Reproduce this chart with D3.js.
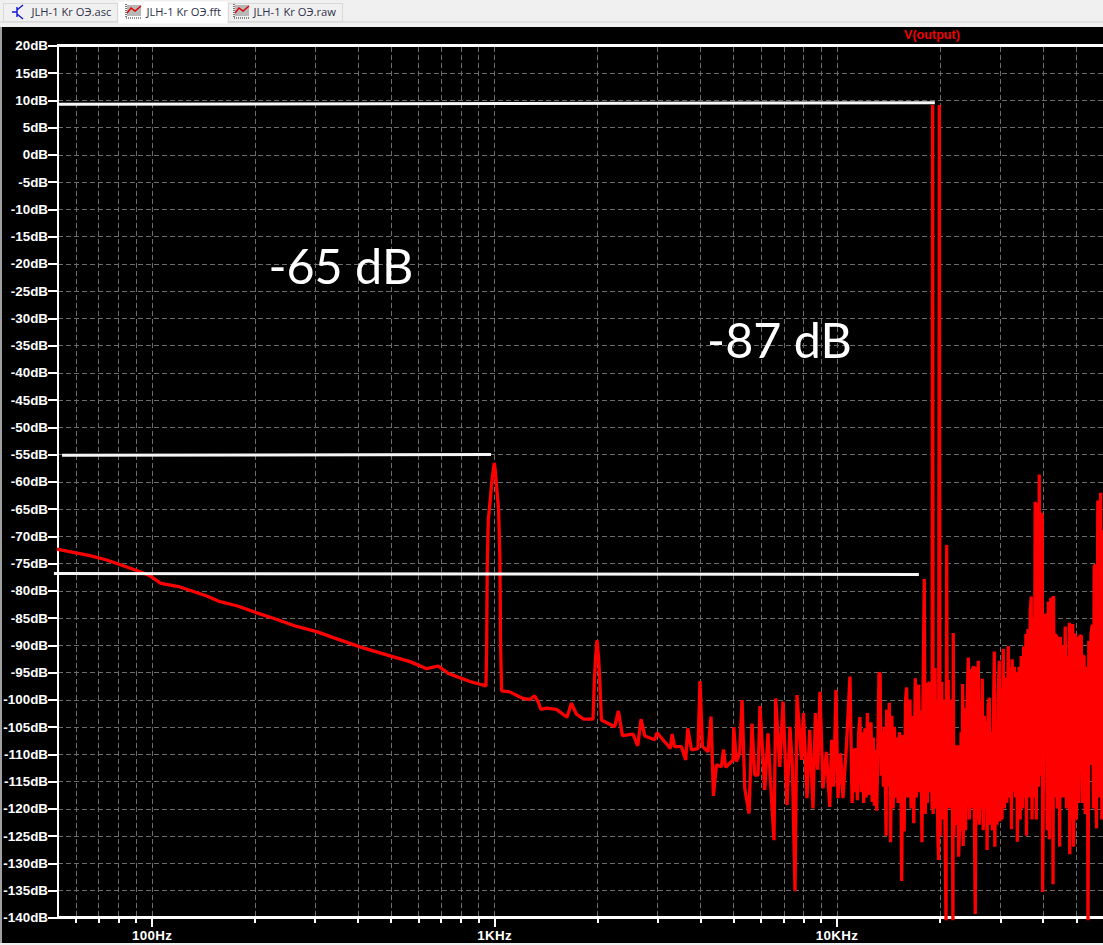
<!DOCTYPE html>
<html><head><meta charset="utf-8">
<style>html,body{margin:0;padding:0;background:#f0f0f0;overflow:hidden}svg{display:block}</style>
<script src="https://cdn.jsdelivr.net/npm/d3@7"></script></head><body>
<script>
const yTicks=[20,15,10,5,0,-5,-10,-15,-20,-25,-30,-35,-40,-45,-50,-55,-60,-65,-70,-75,-80,-85,-90,-95,-100,-105,-110,-115,-120,-125,-130,-135,-140];
const xMajor=[100,1000,10000];
const xMajorLabels=["100Hz","1KHz","10KHz"];
const xMinor=[60,70,80,90,200,300,400,500,600,700,800,900,2000,3000,4000,5000,6000,7000,8000,9000,20000,30000,40000,50000];
const tabs=["JLH-1 Kr ОЭ.asc","JLH-1 Kr ОЭ.fft","JLH-1 Kr ОЭ.raw"];
const traceName="V(output)";
const lowFreq=[52.9,59.1,66.1,74,82.7,92.6,99,106.4,121.1,144.9,158.4,177.3,202.8,226.8,265.3,303.5,339.4,406,496.7,568,636,687,735,850.5,947,951.5,955,961.9,972.8,984,994.8,1001.4,1008,1017.6,1031,1040,1045,1052,1111,1215,1271,1315,1344,1369,1422,1521,1633,1682,1740,1827,1945,1963,1977,1998,2021,2035,2058,2250,2307,2370,2545,2627,2686,2754,2945,2991,3272,3308,3368,3524,3627,3677,3770,3939,3993,4058,4213,4299,4369,4458,4611,4674,4747,4985,5009,5100,5214,5297,5394,5551,5664,5768,5897,5976,6168,6307,6409,6566,6642,6823,6975,7166,7311,7430,7562,7664,7895,8001,8197,8347,8534,8673,8808,8944,9126,9337,9550,9676,9806,9959,10094,10280,10440,10680,10942];
const lowDb=[-72.4,-73,-73.6,-74.4,-75.45,-76.55,-77.3,-78.7,-79.35,-81,-82.05,-82.8,-84.1,-85.1,-86.6,-87.55,-88.65,-90.35,-92,-93.05,-94.35,-93.85,-95.2,-96.7,-97.5,-90.3,-75.9,-67.05,-63.95,-60.3,-57.9,-56.6,-57.9,-61,-65.2,-74,-90.3,-98.4,-98.6,-99.8,-100,-99.35,-100.4,-101.8,-101.6,-101.8,-103.25,-100.7,-102.7,-103.6,-103.6,-96.4,-92.75,-89.1,-92.75,-96.4,-103.75,-105,-102.1,-106.65,-106.35,-108.5,-103.6,-106.7,-107.4,-106.1,-109,-106.35,-108.65,-108.65,-111.1,-105.3,-109.25,-109,-96.6,-108.65,-109.6,-103.15,-117.7,-112,-112.35,-109.15,-112.45,-111.1,-105.05,-111.4,-109.8,-100.1,-116.3,-120.9,-104.4,-113.85,-113.85,-101.2,-116.6,-106.2,-114.8,-125.8,-99.8,-112.35,-100.4,-119.35,-105,-112.35,-135.2,-99.2,-111.1,-102.5,-118.1,-105.6,-120,-102.5,-112.9,-98.6,-116.3,-109.6,-119.7,-107.4,-116,-98.25,-118.1,-109.9,-118.1,-108.65,-95.8];
const noiseFreq=[11100,11200,11300,11400,11500,11600,11700,11800,11900,12000,12100,12200,12300,12400,12500,12600,12700,12800,12900,13000,13100,13200,13300,13400,13500,13600,13700,13800,13900,13950,14000,14125,14250,14375,14500,14625,14750,14875,15000,15125,15250,15390,15490,15600,15750,15900,16020,16150,16270,16380,16500,16650,16800,16970,17100,17230,17360,17500,17625,17750,17875,18030,18150,18275,18400,18525,18650,18775,18900,19000,19070,19140,19250,19380,19500,19625,19750,19850,19950,20050,20150,20270,20400,20550,20700,20870,20960,21070,21180,21300,21450,21600,21750,21860,21910,22000,22200,22400,22600,22710,22900,23100,23230,23340,23430,23600,23800,24000,24240,24400,24600,24800,24900,25100,25250,25400,25600,25750,25920,26100,26300,26450,26630,26800,27000,27200,27400,27500,27700,27910,28100,28300,28500,28700,28870,28970,29200,29400,29600,29850,29950,30200,30400,30660,30900,31150,31400,31710,31950,32200,32400,32550,32800,33050,33300,33550,33700,34100,34350,34600,34900,35170,35500,35700,35840,36200,36500,36750,37000,37200,37600,37800,38000,38300,38650,38850,39050,39300,39600,39850,39950,40300,40600,40940,41200,41500,41780,42200,42500,42700,42850,43000,43300,43500,43800,44100,44500,44800,45000,45400,45700,46100,46500,46900,47300,47500,47800,47950,48400,48700,48900,49200,49750,50100,50500,50900,51300,51800,52200,52500,52800,53200,53600,54000,54200,54500,54900,55300,55800,56200,56500,56900,57200,57400,57900,58400,59000,59500,60000,61000];
const noiseDb=[-119,-109,-117,-108.9,-118.5,-106,-103.2,-117,-106,-119,-105.3,-118,-102.5,-117.5,-106,-104.2,-118.8,-107,-119.5,-109.3,-120.4,-108,-95.1,-95.3,-114,-106,-116,-105,-118,-125,-101.9,-116,-100.6,-126.2,-103,-120,-105,-118,-107,-119,-106,-108.7,-133.3,-106.5,-124.2,-100,-97.8,-118,-101,-100,-120,-103,-122.7,-96.1,-118,-99,-97.3,-117,-102,-126.2,-100,-77.9,-121,-97,-119,-97,-96.9,-117,-100,-120,9.1,-121,-100,-94.2,-120,-100,-125,-129.45,9.1,-125,-98,-96.8,-122,-100,-120,-140.5,-71.65,-120,-96.4,-120,-100,-119,-106,-140.5,-87.8,-125,-108.4,-123,-108.4,-128.85,-122,-106,-124,-97.15,-126.9,-101.6,-124,-103,-92.3,-122,-94.5,-120,-94.7,-93.9,-120,-139.35,-94,-122,-92.9,-123,-100,-120,-96.2,-124,-103,-120,-104,-127.6,-101,-99.7,-123,-106,-124,-104,-91.2,-127,-104,-123,-100,-92.9,-122.4,-98,-122,-90.7,-120,-96,-119,-90.2,-118,-94,-123.8,-92.6,-117,-94,-118,-95,-126.1,-94,-122,-92,-120,-90.3,-118,-88,-125,-87.05,-118,-84,-81.1,-122,-85,-118,-63.7,-122,-64,-116,-58.7,-114,-66,-66,-135.3,-100,-84.5,-84.5,-124,-82,-125.65,-81.4,-120,-81.2,-133.9,-81,-118,-88.2,-88.2,-120,-88.5,-127,-88.5,-118,-90,-118,-86.6,-120,-92,-118,-85.9,-128.4,-88,-122,-86.15,-127,-87.85,-122,-88.5,-119,-88.5,-88.2,-119,-92,-92.15,-121,-94,-100,-140.5,-89.25,-112,-88,-86.3,-120,-75.45,-75.45,-118,-123.65,-63.5,-118,-62.05,-122,-68.9,-90];
const guideFreqA=[53.7,19360], guideDbA=[9.2,9.5];
const guideFreqB=[54.8,979.5], guideDbB=[-55.2,-55.05];
const guideFreqC=[51.9,17390], guideDbC=[-76.9,-77.05];
const noteTexts=["-65 dB","-87 dB"];
const noteFreq=[219.4,4188], noteDb=[-23.75,-37.3];

const W=1103,H=945;
const x=d3.scaleLog().domain([52.97,59950]).range([57,1103]);
const y=d3.scaleLinear().domain([-140,20]).range([917.5,45.5]);
const svg=d3.select("body").append("svg").attr("width",W).attr("height",H);
const sysFont='"Liberation Sans",Arial,sans-serif';

// window chrome
svg.append("rect").attr("width",W).attr("height",H).attr("fill","#f0f0f0");
svg.append("rect").attr("y",21.5).attr("width",W).attr("height",1).attr("fill","#cfcfcf");
svg.append("rect").attr("x",2).attr("y",27).attr("width",W-2).attr("height",916).attr("fill","#000");
svg.append("rect").attr("x",0).attr("y",27).attr("width",2).attr("height",916).attr("fill","#a0a0a0");

const tabBox=[[3,3,114,18,"#f0f0f0"],[118,1,109,22,"#ffffff"],[228,3,114,18,"#f0f0f0"]];
const tabG=svg.append("g");
tabG.selectAll("rect").data(tabBox).join("rect")
 .attr("x",d=>d[0]+.5).attr("y",d=>d[1]+.5).attr("width",d=>d[2]).attr("height",d=>d[3])
 .attr("fill",d=>d[4]).attr("stroke",(d,i)=>i==1?"none":"#d9d9d9");
tabG.selectAll("text").data(tabs).join("text")
 .attr("x",(d,i)=>[31.5,146.5,253.5][i]).attr("y",16).attr("font-family",'"Open Sans",sans-serif')
 .attr("font-size",11.2).attr("fill","#30304a").text(d=>d);
// tab icons
const sch=tabG.append("g").attr("stroke","#1515d8").attr("fill","none").attr("stroke-width",1.4);
sch.append("path").attr("d","M12 12H17M17 7V17M17 10L23 5M17 14L23 19");
[126,234].forEach(ix=>{
 const g=tabG.append("g");
 g.append("rect").attr("x",ix+1).attr("y",5).attr("width",14).attr("height",11).attr("fill","#b8b8b8");
 g.append("path").attr("d",`M${ix} 4V18H${ix+16}`).attr("fill","none").attr("stroke","#222").attr("stroke-dasharray","1 1").attr("stroke-width",1.2);
 g.append("path").attr("d",`M${ix+1} 13L${ix+5} 8L${ix+9} 11L${ix+15} 6`).attr("fill","none").attr("stroke","#e00000").attr("stroke-width",1.4);
});

// grid
const grid=svg.append("g").attr("stroke","#6c6c6c").attr("stroke-width",1).attr("stroke-dasharray","5 3").attr("shape-rendering","crispEdges");
grid.selectAll("line.h").data(yTicks.slice(1,-1)).join("line").attr("class","h")
 .attr("x1",58).attr("x2",W).attr("y1",d=>Math.round(y(d))+.5).attr("y2",d=>Math.round(y(d))+.5);
grid.selectAll("line.v").data(xMinor.concat(xMajor)).join("line").attr("class","v")
 .attr("x1",d=>Math.round(x(d))+.5).attr("x2",d=>Math.round(x(d))+.5).attr("y1",47).attr("y2",916);

// axes
const yAxis=d3.axisLeft(y).tickValues(yTicks).tickFormat(d=>d+"dB").tickSize(9).tickPadding(0);
const gy=svg.append("g").attr("transform","translate(57,0)").call(yAxis);
const xAxis=d3.axisBottom(x).tickValues(xMajor).tickFormat((d,i)=>xMajorLabels[i]).tickSize(9).tickPadding(4);
const gx=svg.append("g").attr("transform","translate(0,917.5)").call(xAxis);
const xAxisMinor=d3.axisBottom(x).tickValues(xMinor).tickFormat("").tickSize(5);
const gxm=svg.append("g").attr("transform","translate(0,917.5)").call(xAxisMinor);
[gy,gx,gxm].forEach(g=>{
 g.select(".domain").remove();
 g.selectAll("line").attr("stroke","#fff").attr("stroke-width",2).attr("shape-rendering","crispEdges");
 g.selectAll("text").attr("fill","#fff").attr("font-family",sysFont).attr("font-weight",700).attr("font-size",13.4);
});
gx.selectAll("text").attr("letter-spacing",.3);

// frame
const frame=svg.append("g").attr("stroke","#fff").attr("shape-rendering","crispEdges");
frame.append("line").attr("x1",57).attr("x2",W).attr("y1",45.5).attr("y2",45.5).attr("stroke-width",3);
frame.append("line").attr("x1",57).attr("x2",W).attr("y1",917.5).attr("y2",917.5).attr("stroke-width",3);
frame.append("line").attr("x1",57.5).attr("x2",57.5).attr("y1",44).attr("y2",919).attr("stroke-width",2);

// trace
const freq=lowFreq.concat(noiseFreq), db=lowDb.concat(noiseDb);
const pts=freq.map((f,i)=>[f,db[i]]);
const lineGen=d3.line().x(d=>x(d[0])).y(d=>y(d[1]));
svg.append("path").datum(pts).attr("d",lineGen).attr("fill","none").attr("stroke","#ff0000")
 .attr("stroke-width",3.3).attr("stroke-linejoin","bevel").attr("stroke-linecap","butt");

svg.append("text").attr("x",904).attr("y",39).attr("fill","#f00000").attr("font-family",sysFont)
 .attr("font-weight",700).attr("font-size",12.6).text(traceName);

// hand-drawn guides
[[guideFreqA,guideDbA],[guideFreqB,guideDbB],[guideFreqC,guideDbC]].forEach(([fs,ds])=>{
 svg.append("path").datum(fs.map((f,i)=>[f,ds[i]])).attr("d",lineGen).attr("stroke","#f6f6f6").attr("stroke-width",3).attr("fill","none");
});
svg.selectAll("text.note").data(noteTexts).join("text").attr("class","note")
 .attr("x",(d,i)=>x(noteFreq[i])).attr("y",(d,i)=>y(noteDb[i]))
 .attr("fill","#fff").attr("font-family",'Lato,sans-serif').attr("font-size",48.5).text(d=>d);
</script></body></html>
